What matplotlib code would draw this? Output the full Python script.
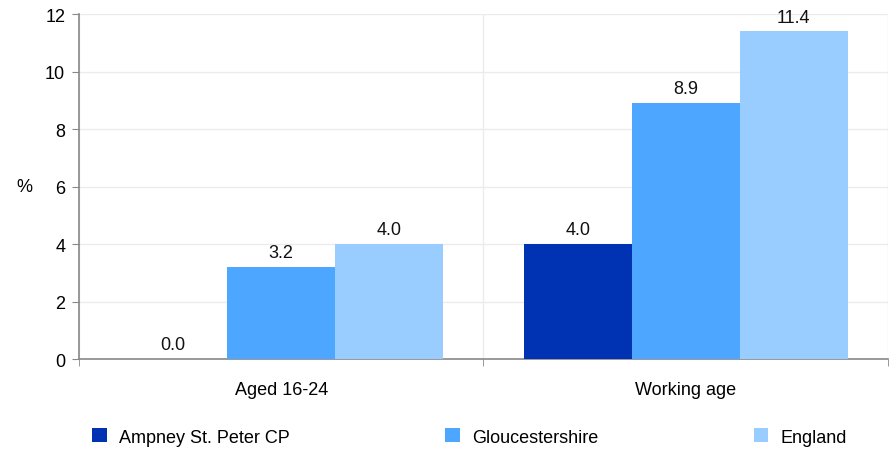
import numpy as np
import matplotlib.pyplot as plt

plt.rcParams['font.family'] = ['Liberation Sans', 'DejaVu Sans']

categories = ['Aged 16-24', 'Working age']
series = ['Ampney St. Peter CP', 'Gloucestershire', 'England']
values = [
    [0.0, 4.0],
    [3.2, 8.9],
    [4.0, 11.4],
]
colors = ['#0033B3', '#4DA6FF', '#99CCFF']

fig = plt.figure(figsize=(8.93, 4.52), dpi=100)
ax = fig.add_axes([0.0885, 0.2035, 0.9058, 0.7633])

x = np.arange(len(categories))
w = 0.267
for i, (name, vals) in enumerate(zip(series, values)):
    pos = x + (i - 1) * w
    bars = ax.bar(pos, vals, w, color=colors[i], label=name, zorder=3)
    for b, v in zip(bars, vals):
        ax.text(b.get_x() + b.get_width() / 2, v + 0.2, f'{v:.1f}',
                ha='center', va='bottom', fontsize=13, color='#111111')

ax.set_xlim(-0.5, len(categories) - 0.5)
ax.set_ylim(0, 12)
ax.set_yticks(range(0, 13, 2))
ax.set_xticks(x)
ax.set_xticklabels(categories)
ax.set_xticks(np.arange(-0.5, len(categories), 1), minor=True)
ax.tick_params(axis='x', which='major', length=0, pad=16, labelsize=13)
ax.tick_params(axis='x', which='minor', length=5, color='#888888')
ax.tick_params(axis='y', length=5, color='#888888', labelsize=13, pad=5)

ax.grid(axis='y', color='#EBEBEB', linewidth=1, zorder=0)
ax.grid(axis='x', which='minor', color='#EBEBEB', linewidth=1, zorder=0)

for s in ['top', 'right']:
    ax.spines[s].set_visible(False)
ax.spines['left'].set_color('#888888')
ax.spines['bottom'].set_color('#888888')
ax.spines['left'].set_linewidth(1.2)
ax.spines['bottom'].set_linewidth(1.2)

ax.text(-0.067, 0.5, '%', transform=ax.transAxes, fontsize=13, ha='center', va='center')

handles, labels = ax.get_legend_handles_labels()
fig.legend(handles, labels, loc='center left', bbox_to_anchor=(0.085, 0.031, 0.882, 0.0),
           ncol=3, mode='expand', frameon=False, fontsize=13,
           handlelength=0.8, handleheight=0.8, handletextpad=0.7)

fig.savefig('out.png', dpi=100)
